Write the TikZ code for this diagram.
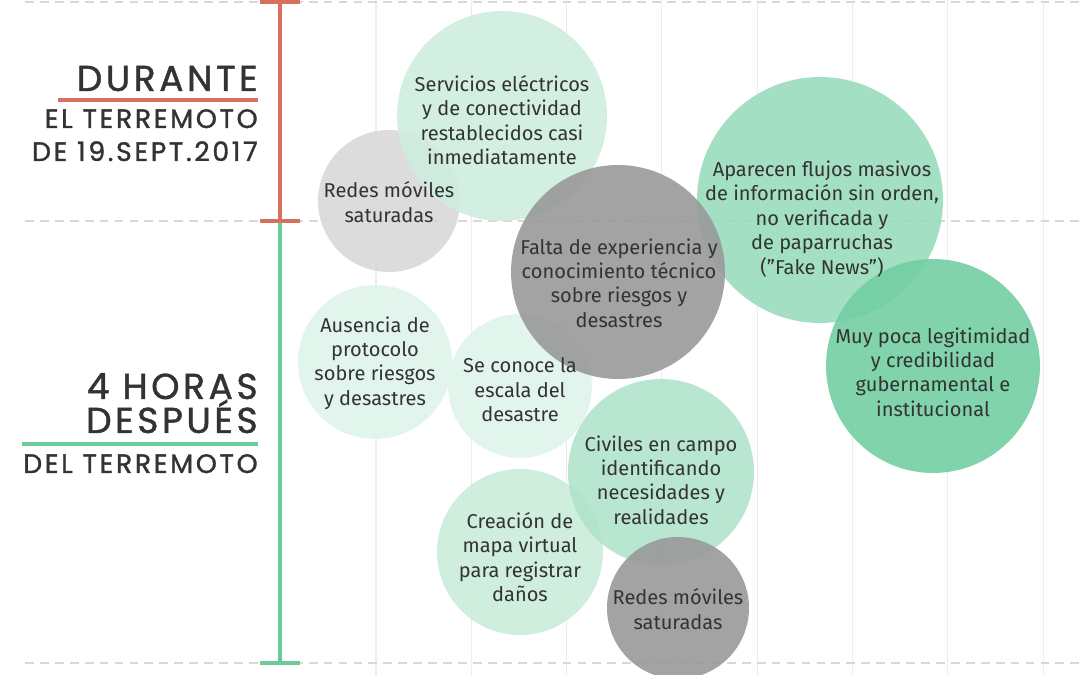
\documentclass[tikz,border=0pt]{standalone}
\usepackage{fontspec}
\setmainfont{Fira Sans}
\newfontfamily\headfont[LetterSpace=10,FakeBold=1.3]{Poppins}
\usetikzlibrary{calc}

\definecolor{inkgray}{HTML}{333333}
\definecolor{axisred}{HTML}{D9705F}
\definecolor{axisgreen}{HTML}{6CCB9A}
\definecolor{gridgray}{HTML}{ECECEC}
\definecolor{dashgray}{HTML}{D8D8D8}
\definecolor{palegreen}{HTML}{DFF4EA}
\definecolor{lightgreen}{HTML}{CEEDDF}
\definecolor{mapgreen}{HTML}{CAECDA}
\definecolor{midgreen}{HTML}{B0E3CB}
\definecolor{seagreen}{HTML}{99DBBC}
\definecolor{deepgreen}{HTML}{72CEA2}
\definecolor{lightgraybub}{HTML}{D8D8D8}
\definecolor{darkgraybub}{HTML}{999999}

\tikzset{
  gridline/.style={gridgray,line width=.6pt},
  dashline/.style={dashgray,line width=.6pt,dash pattern=on 5pt off 3.5pt},
  axisline/.style={line width=2.3pt},
  tickbar/.style={line width=2.8pt},
  bubble/.style={fill opacity=.9},
  bubbletext/.style={align=center,text=inkgray,inner sep=0pt,
    font=\fontsize{11.4}{13.9}\selectfont},
  bighead/.style={anchor=base east,inner sep=0pt,text=inkgray,
    font=\headfont\fontsize{20.5}{20.5}\selectfont},
  smallhead/.style={anchor=base east,inner sep=0pt,text=inkgray,
    font=\headfont\fontsize{15.2}{15.2}\selectfont},
}

\begin{document}
\begin{tikzpicture}[x=0.02cm,y=-0.02cm]
  \useasboundingbox (0,0) rectangle (1080,675);

  % background grid
  \foreach \k in {0,...,7}
    \draw[gridline] ({376+95.3*\k},0) -- ({376+95.3*\k},675);
  \foreach \gy in {2,221,663}
    \draw[dashline] (25,\gy) -- (1080,\gy);

  % time axis
  \coordinate (axTop) at (280,2);
  \coordinate (axMid) at (280,221);
  \coordinate (axBot) at (280,665);
  \draw[axisline,axisred]   (axTop) -- (axMid);
  \draw[axisline,axisgreen] (axMid) -- (axBot);
  \draw[tickbar,axisred]   ($(axTop)+(-20,0)$) -- ($(axTop)+(20,0)$);
  \draw[tickbar,axisred]   ($(axMid)+(-20,0)$) -- ($(axMid)+(20,0)$);
  \draw[tickbar,axisgreen] ($(axBot)+(-20,-2)$) -- ($(axBot)+(20,-2)$);

  % headings
  \node[bighead]   (durante)  at (258,91)  {DURANTE};
  \draw[axisline,axisred] (58,100) -- (258,100);
  \node[smallhead] (elTerr)   at (258,128) {EL TERREMOTO};
  \node[smallhead] (fecha)    at (258,161) {DE 19.SEPT.2017};
  \node[bighead]   (horas)    at (258,399) {4 HORAS};
  \node[bighead]   (despues)  at (258,433) {DESPUÉS};
  \draw[axisline,axisgreen] (22,444) -- (258,444);
  \node[smallhead] (delTerr)  at (258,473) {DEL TERREMOTO};

  % bubbles
  \fill[bubble,lightgraybub] (389,201) circle[radius=1.42cm];
  \fill[bubble,lightgreen]   (502,116) circle[radius=2.1cm];
  \fill[bubble,seagreen]     (820,200) circle[radius=2.46cm];
  \fill[bubble,deepgreen]    (933,366) circle[radius=2.14cm];
  \fill[bubble,palegreen]    (375,362) circle[radius=1.54cm];
  \fill[bubble,palegreen]    (520,386) circle[radius=1.44cm];
  \fill[bubble,darkgraybub]  (618,272) circle[radius=2.14cm];
  \fill[bubble,mapgreen]     (520,552) circle[radius=1.66cm];
  \fill[bubble,midgreen]     (661,472) circle[radius=1.86cm];
  \fill[bubble,darkgraybub]  (678,608) circle[radius=1.42cm];

  % bubble texts
  \node[bubbletext] (redesA)   at (389,202) {Redes móviles\\saturadas};
  \node[bubbletext] (servicios) at (502,120) {Servicios eléctricos\\y de conectividad\\restablecidos casi\\inmediatamente};
  \node[bubbletext] (flujos)   at (822,219) {Aparecen flujos masivos\\de información sin orden,\\no verificada y\\de paparruchas\\(”Fake News”)};
  \node[bubbletext] (legit)    at (933,372) {Muy poca legitimidad\\y credibilidad\\gubernamental e\\institucional};
  \node[bubbletext] (falta)    at (619,283) {Falta de experiencia y\\conocimiento técnico\\sobre riesgos y\\desastres};
  \node[bubbletext] (protocolo) at (375,363) {Ausencia de\\protocolo\\sobre riesgos\\y desastres};
  \node[bubbletext] (escala)   at (520,390) {Se conoce la\\escala del\\desastre};
  \node[bubbletext] (civiles)  at (661,480) {Civiles en campo\\identificando\\necesidades y\\realidades};
  \node[bubbletext] (mapa)     at (520,557) {Creación de\\mapa virtual\\para registrar\\daños};
  \node[bubbletext] (redesB)   at (678,609) {Redes móviles\\saturadas};
\end{tikzpicture}
\end{document}
